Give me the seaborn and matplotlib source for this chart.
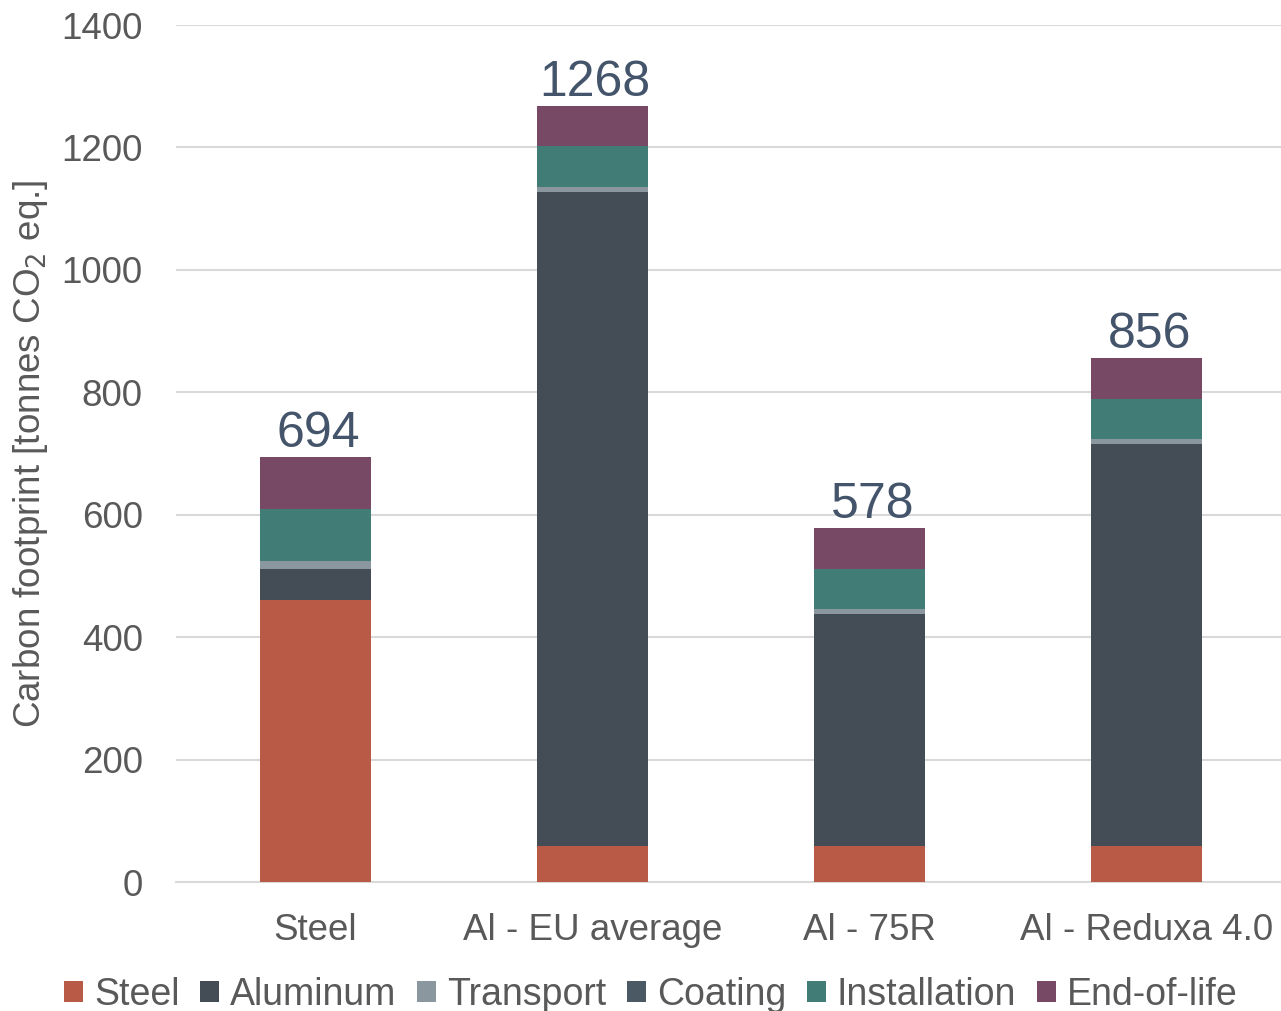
import matplotlib
matplotlib.use("Agg")
import matplotlib.pyplot as plt
import seaborn as sns
import numpy as np
import pandas as pd
from matplotlib.patches import Patch

categories = ["Steel", "Al - EU average", "Al - 75R", "Al - Reduxa 4.0"]
series_names = ["Steel", "Aluminum", "Transport", "Coating", "Installation", "End-of-life"]
steel = [461, 58, 58, 58]
aluminum = [51, 1069, 379, 657]
transport = [12, 9, 9, 9]
coating = [0, 0, 0, 0]
installation = [85, 66, 65, 65]
end_of_life = [85, 66, 67, 67]
totals = [694, 1268, 578, 856]
colors = ["#b85a45", "#444c56", "#8a979e", "#4a5963", "#417d76", "#784964"]

sns.set_theme(style="white")
plt.rcParams['font.family'] = ['Liberation Sans', 'DejaVu Sans']

fig = plt.figure(figsize=(12.81, 10.11), dpi=100)
ax = fig.add_axes([176/1281, 129/1011, 1105/1281, 857/1011])

layers = [steel, aluminum, transport, coating, installation, end_of_life]
cum = np.cumsum(np.array(layers, dtype=float), axis=0)

for i in range(len(layers) - 1, -1, -1):
    df = pd.DataFrame({"cat": categories, "val": cum[i]})
    sns.barplot(data=df, x="cat", y="val", color=colors[i], width=0.4,
                saturation=1, ax=ax, zorder=3, linewidth=0, errorbar=None)

for i, t in enumerate(totals):
    ax.text(i + 0.01, t + 0, str(t), ha="center", va="bottom", fontsize=36, color="#44546a")

ax.set_ylim(0, 1400)
ax.set_xlim(-0.502, 3.484)
ax.set_yticks(range(0, 1401, 200))
ax.yaxis.grid(True, color="#d9d9d9", linewidth=1.5, zorder=0)
ax.set_axisbelow(True)
for s in ["top", "right", "left"]:
    ax.spines[s].set_visible(False)
ax.spines["bottom"].set_color("#d9d9d9")
ax.spines["bottom"].set_linewidth(1.5)
ax.tick_params(axis="both", length=0, labelsize=26.5, colors="#595959")
ax.tick_params(axis="y", pad=24)
ax.tick_params(axis="x", pad=22)
ax.set_xlabel("")
ax.set_ylabel("Carbon footprint [tonnes CO$_2$ eq.]", fontsize=26.5, color="#595959")
ax.yaxis.set_label_coords(-126/1105, 0.5)

handles = [Patch(facecolor=c, edgecolor="none") for c in colors]
fig.legend(handles, series_names, loc="center", bbox_to_anchor=(0.508, 0.016),
           ncol=6, frameon=False, fontsize=27, handlelength=0.5, handleheight=0.5,
           handletextpad=0.3, columnspacing=0.55, labelcolor="#595959",
           borderpad=0, borderaxespad=0)

fig.savefig("out.png", dpi=100)
